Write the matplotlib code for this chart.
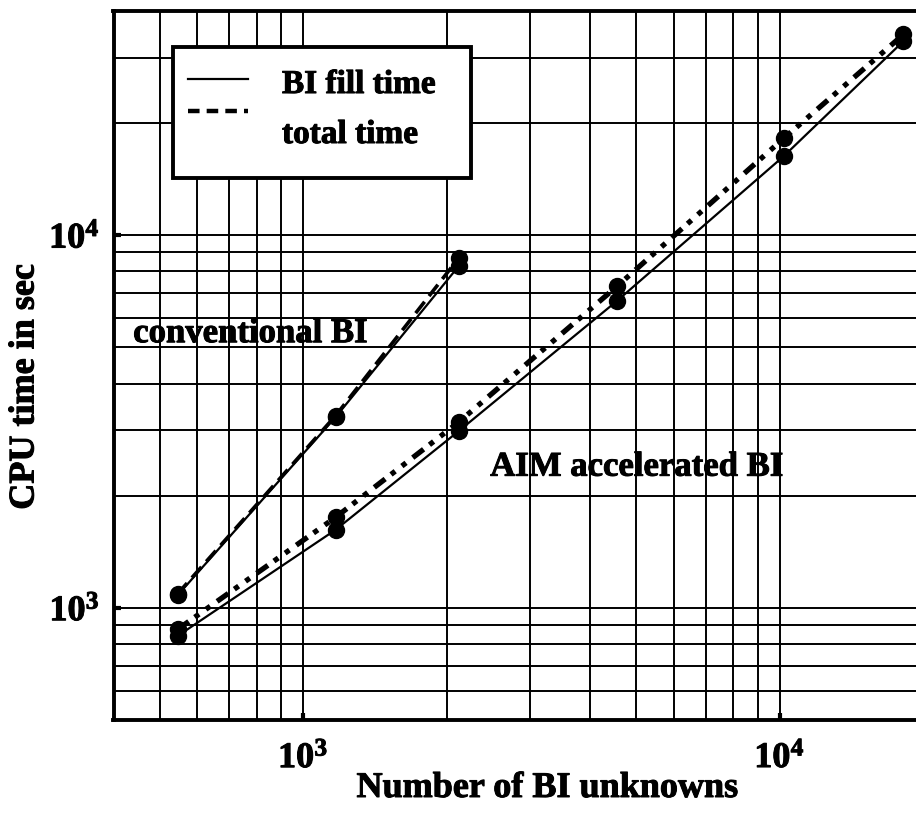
import numpy as np
import matplotlib
matplotlib.use("Agg")
import matplotlib.pyplot as plt
import matplotlib.ticker as ticker
import matplotlib.patheffects as pe
from matplotlib.patches import Rectangle
from matplotlib.lines import Line2D

plt.rcParams['font.family'] = ['Liberation Serif', 'DejaVu Serif']
plt.rcParams['font.weight'] = 'bold'
plt.rcParams['mathtext.fontset'] = 'custom'
plt.rcParams['mathtext.rm'] = 'Liberation Serif:bold'
plt.rcParams['mathtext.bf'] = 'Liberation Serif:bold'
plt.rcParams['mathtext.it'] = 'Liberation Serif:bold'

# number of BI unknowns
conv_n = [545, 1170, 2120]
aim_n = [545, 1170, 2120, 4560, 10200, 18200]

# CPU time in sec
conv_fill = [1080, 3250, 8260]
conv_total = [1090, 3280, 8680]
aim_fill = [840, 1620, 2980, 6670, 16300, 33200]
aim_total = [875, 1750, 3150, 7300, 18200, 34600]

legend_labels = ["BI fill time", "total time"]

# scanned print looks heavy, thicken the glyphs a little
heavy = [pe.withStroke(linewidth=0.7, foreground='black')]

fig = plt.figure(figsize=(9.16, 8.19), dpi=100)
W, H = 916, 819
# axes runs a bit past the right edge, like the cropped original
ax = fig.add_axes([113.5 / W, 1 - 720 / H, (923 - 113.5) / W, (720 - 11) / H])

ax.set_xscale('log')
ax.set_yscale('log')
ax.set_xlim(400, 20000)
ax.set_ylim(500, 40000)

ax.grid(True, which='both', color='black', lw=1.4)
ax.set_axisbelow(True)
for s in ax.spines.values():
    s.set_linewidth(2.8)

fmt = ticker.FuncFormatter(lambda v, p: r'$10^{%d}$' % round(np.log10(v)))
ax.xaxis.set_major_formatter(fmt)
ax.yaxis.set_major_formatter(fmt)
ax.xaxis.set_minor_formatter(ticker.NullFormatter())
ax.yaxis.set_minor_formatter(ticker.NullFormatter())
ax.tick_params(which='major', direction='in', length=5, width=3, labelsize=26)
ax.tick_params(axis='x', which='major', pad=16)
ax.tick_params(axis='y', which='major', pad=10)
ax.tick_params(which='minor', length=0)
for lab in ax.get_xticklabels() + ax.get_yticklabels():
    lab.set_path_effects(heavy)

# conventional BI
ax.plot(conv_n, conv_fill, color='black', lw=1.6, marker='o', ms=11.5)
ax.plot(conv_n, conv_total, color='black', lw=2.6, ls=(0, (4, 2)), marker='o', ms=11.5)

# AIM accelerated BI
ax.plot(aim_n, aim_fill, color='black', lw=1.6, marker='o', ms=11.5)
ax.plot(aim_n, aim_total, color='black', lw=3.8, ls=(0, (2.6, 1.4, 1, 1.6, 1, 1.6)),
        marker='o', ms=11.5)

ax.text(440, 5165, "conventional BI", fontsize=25, fontweight='bold',
        ha='left', va='baseline', path_effects=heavy)
ax.text(2470, 2263, "AIM accelerated BI", fontsize=25, fontweight='bold',
        ha='left', va='baseline', path_effects=heavy)

# legend box drawn by hand to match the boxed key
ax.add_patch(Rectangle((0.0735, 0.7645), 0.4416 - 0.0735, 0.9492 - 0.7645,
                       transform=ax.transAxes, facecolor='white', edgecolor='black',
                       lw=2.8, zorder=10, clip_on=False))
ax.add_line(Line2D([0.092, 0.166], [0.9037, 0.9037], transform=ax.transAxes,
                   color='black', lw=1.6, zorder=11))
ax.add_line(Line2D([0.092, 0.166], [0.8585, 0.8585], transform=ax.transAxes,
                   color='black', lw=3.2, ls=(0, (2.6, 1.6)), zorder=11))
ax.text(0.2081, 0.8843, legend_labels[0], transform=ax.transAxes, fontsize=24,
        fontweight='bold', va='baseline', zorder=12, path_effects=heavy)
ax.text(0.2081, 0.8138, legend_labels[1], transform=ax.transAxes, fontsize=24,
        fontweight='bold', va='baseline', zorder=12, path_effects=heavy)

fig.text(547.5 / W, 1 - 797 / H, "Number of BI unknowns", fontsize=26,
         fontweight='bold', ha='center', va='baseline', path_effects=heavy)
fig.text(25 / W, 1 - 387 / H, "CPU time in sec", fontsize=26, fontweight='bold',
         ha='center', va='center', rotation=90, path_effects=heavy)

fig.savefig("out.png", dpi=100)
